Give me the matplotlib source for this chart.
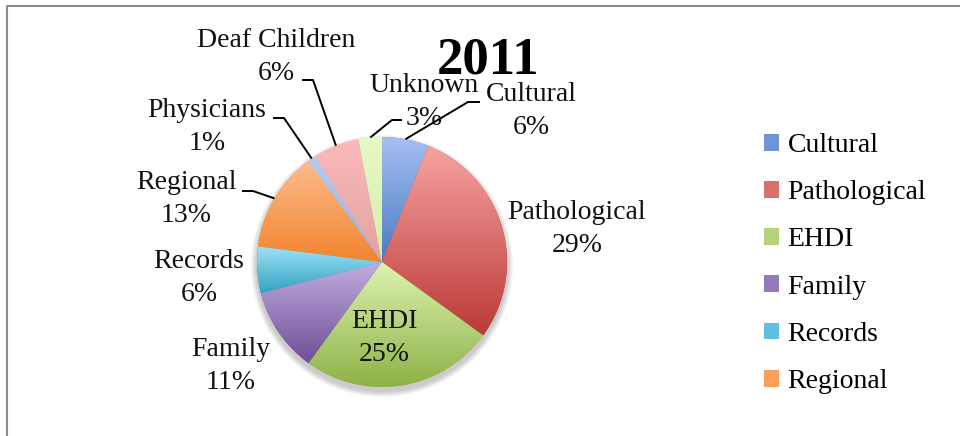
import matplotlib
matplotlib.use('Agg')
import matplotlib.pyplot as plt
import numpy as np
from matplotlib.patches import Circle, Patch
from matplotlib.colors import LinearSegmentedColormap

plt.rcParams['font.family'] = ['Liberation Serif', 'DejaVu Serif']

# data
categories = ['Cultural', 'Pathological', 'EHDI', 'Family', 'Records',
              'Regional', 'Physicians', 'Deaf Children', 'Unknown']
shares = [6, 29, 25, 11, 6, 13, 1, 6, 3]
legend_names = ['Cultural', 'Pathological', 'EHDI', 'Family', 'Records', 'Regional']

# gradient colours: top (light) -> bottom (dark)
top_cols = ['#a6c0f2', '#f6a3a1', '#dcf2b0', '#c2aee0', '#9ee2f8', '#fcbd8e',
            '#b4ccf4', '#fbbaba', '#e6fac4']
bot_cols = ['#4a7bc2', '#bb3a36', '#8eb246', '#6e4d96', '#34a2c0', '#f3832e',
            '#98b2e4', '#e3a2a2', '#d4eeaa']
leg_cols = ['#6f94d6', '#d8706d', '#b3d27c', '#9479bb', '#62c0dc', '#f89f5c']

W, H = 960, 436
fig = plt.figure(figsize=(9.6, 4.36), dpi=100)
ax = fig.add_axes([0, 0, 1, 1])
ax.set_xlim(0, W)
ax.set_ylim(0, H)
ax.set_aspect('equal')
ax.axis('off')

cx, cy, r = 382, H - 262, 125

# soft shadow under the pie
for k in range(6):
    ax.add_patch(Circle((cx, cy - 4), r + 1 + k, color='#000000',
                        alpha=0.035, lw=0, zorder=0))

wedges, _ = ax.pie(shares, center=(cx, cy), radius=r, startangle=90,
                   counterclock=False, colors=bot_cols,
                   wedgeprops=dict(linewidth=0))

grad = np.linspace(0, 1, 256).reshape(-1, 1)
for w, c1, c2 in zip(wedges, top_cols, bot_cols):
    cmap = LinearSegmentedColormap.from_list('g', [c2, c1])
    w.set_zorder(1)
    th = np.deg2rad(np.linspace(w.theta1, w.theta2, 200))
    ys = np.concatenate([[cy], cy + r * np.sin(th)])
    im = ax.imshow(grad, cmap=cmap, origin='lower', aspect='auto',
                   extent=(cx - r, cx + r, ys.min(), ys.max()), zorder=2)
    im.set_clip_path(w)
ax.set_xlim(0, W)
ax.set_ylim(0, H)

# labels (x, y in pixel coords from top)
lab_pos = {
    'Cultural': (531, 111),
    'Pathological': (577, 229),
    'EHDI': (384, 338),
    'Family': (231, 366),
    'Records': (199, 278),
    'Regional': (186, 199),
    'Physicians': (207, 127),
    'Deaf Children': (276, 57),
    'Unknown': (424, 102),
}
# leader line elbows (start near label, horizontal run)
leaders = {
    'Cultural': [(480, 102), (468, 102)],
    'Unknown': [(402, 120), (392, 120)],
    'Deaf Children': [(302, 80), (313, 80)],
    'Physicians': [(273, 118), (284, 118)],
    'Regional': [(242, 191), (253, 191)],
}

for w, name, val in zip(wedges, categories, shares):
    x, y = lab_pos[name]
    ax.text(x, H - y, f'{name}\n{val}%', ha='center', va='center',
            fontsize=20, linespacing=1.38, color='#111111', zorder=5)
    if name in leaders:
        mid = np.deg2rad((w.theta1 + w.theta2) / 2)
        ex, ey = cx + r * np.cos(mid), cy + r * np.sin(mid)
        pts = leaders[name]
        xs = [p[0] for p in pts] + [ex]
        ys = [H - p[1] for p in pts] + [ey]
        ax.plot(xs, ys, color='black', lw=1.4, zorder=4,
                solid_capstyle='butt')

ax.text(488, H - 73, '2011', ha='center', va='baseline', fontsize=38,
        fontweight='bold', color='black')

handles = [Patch(facecolor=c, edgecolor='none') for c in leg_cols]
fig.legend(handles, legend_names, loc='upper left', bbox_to_anchor=(764 / W, 1 - 133 / H),
           frameon=False, fontsize=20, handlelength=0.55, handleheight=0.55,
           handletextpad=0.3, labelspacing=0.8, borderaxespad=0, borderpad=0)

# chart frame (partly cropped)
ax.plot([7, 7, W], [0, H - 6, H - 6], color='#8c8c8c', lw=1.5, zorder=6)

fig.savefig('out.png', dpi=100)
